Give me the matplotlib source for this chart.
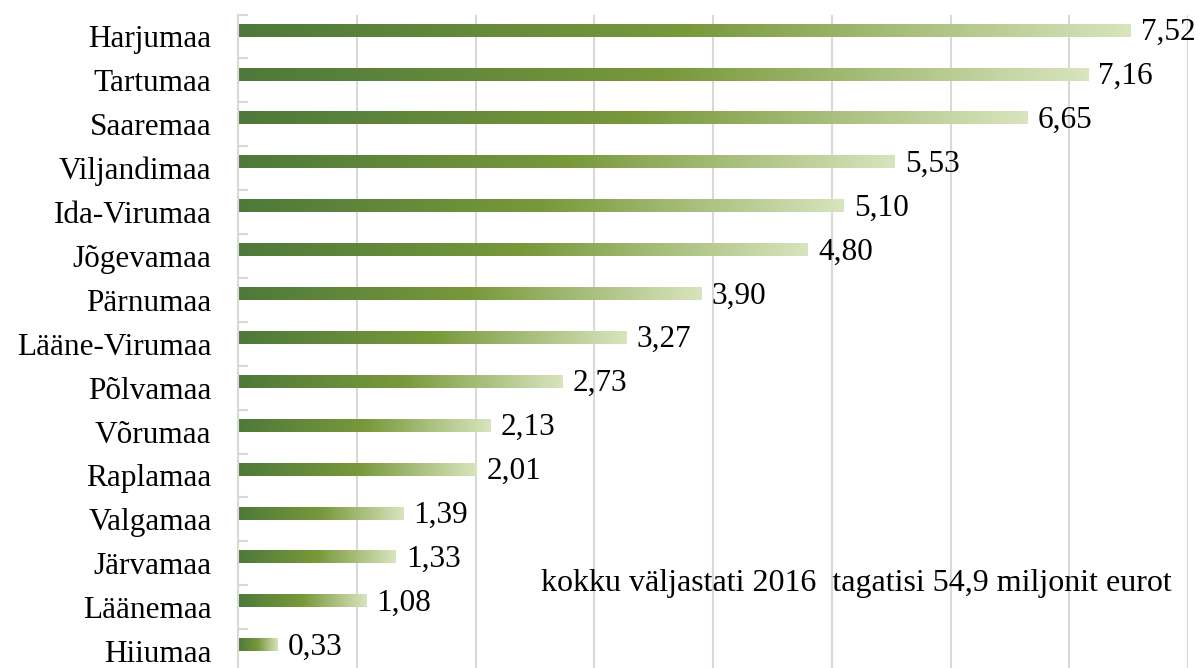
import matplotlib.pyplot as plt
import numpy as np
from matplotlib.colors import LinearSegmentedColormap

counties = ['Harjumaa', 'Tartumaa', 'Saaremaa', 'Viljandimaa', 'Ida-Virumaa',
            'Jõgevamaa', 'Pärnumaa', 'Lääne-Virumaa', 'Põlvamaa', 'Võrumaa',
            'Raplamaa', 'Valgamaa', 'Järvamaa', 'Läänemaa', 'Hiiumaa']
values = [7.52, 7.16, 6.65, 5.53, 5.10, 4.80, 3.90, 3.27, 2.73, 2.13,
          2.01, 1.39, 1.33, 1.08, 0.33]
note = 'kokku väljastati 2016  tagatisi 54,9 miljonit eurot'

plt.rcParams['font.family'] = ['Liberation Serif', 'DejaVu Serif']

fig = plt.figure(figsize=(11.99, 6.68), dpi=100)
# axes placed in pixels: left 238, right 1188, top 14.5, bottom ~673
ax = fig.add_axes([238 / 1199, (668 - 673) / 668, 950 / 1199, 658.5 / 668])

cmap = LinearSegmentedColormap.from_list(
    'grn', [(0, '#4e793a'), (0.5, '#78983a'), (1, '#d8e4bd')])
grad = np.linspace(0, 1, 256).reshape(1, -1)

bar_h = 0.29
off = 0.14
for i, v in enumerate(values):
    yc = i - off
    ax.imshow(grad, cmap=cmap, aspect='auto', interpolation='bilinear',
              extent=[0, v, yc + bar_h / 2, yc - bar_h / 2], zorder=2)
    ax.text(v + 0.085, yc + 0.05, f'{v:.2f}'.replace('.', ','), va='center',
            ha='left', fontsize=22.5, color='black', zorder=3)

ax.set_xlim(0, 8)
ax.set_ylim(len(counties) - 0.5, -0.5)
ax.set_xticks(np.arange(0, 9, 1))
ax.tick_params(axis='x', length=0, labelbottom=False)
ax.grid(axis='x', color='#d9d9d9', linewidth=1.5, zorder=0)
ax.set_axisbelow(True)

ax.set_yticks(np.arange(len(counties)))
ax.set_yticklabels(counties, fontsize=22.5)
ax.tick_params(axis='y', length=0, pad=19)
# small boundary ticks on the category axis
for b in np.arange(len(counties) + 1) - 0.5:
    ax.plot([0, 0.075], [b, b], color='#d9d9d9', linewidth=1.5,
            clip_on=False, zorder=1)

for s in ['top', 'right', 'bottom']:
    ax.spines[s].set_visible(False)
ax.spines['left'].set_color('#d9d9d9')
ax.spines['left'].set_linewidth(1.5)

ax.text(7.865, 12.45, note, ha='right', va='center', fontsize=23, zorder=3)

fig.savefig('out.png', dpi=100)
